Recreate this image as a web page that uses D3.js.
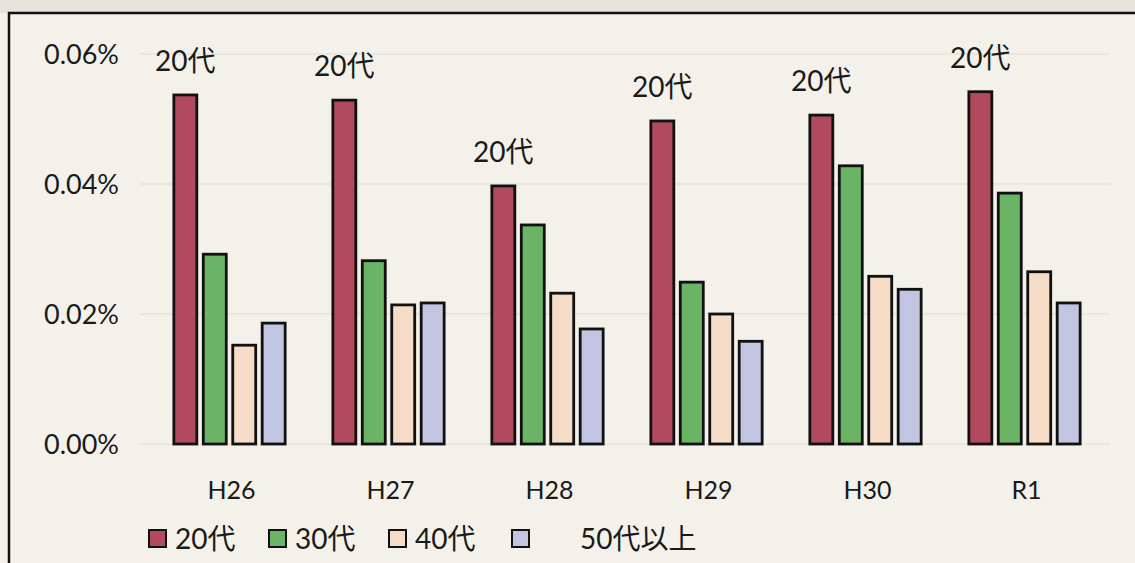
<!DOCTYPE html>
<html>
<head>
<meta charset="utf-8">
<script src="https://cdn.jsdelivr.net/npm/d3@7"></script>
<style>
  body { margin: 0; background: #f3f1e9; }
  text { font-family: "Lato", "Noto Sans CJK JP", sans-serif; fill: #1a1a1a; }
</style>
</head>
<body>
<div id="chart"></div>
<script>
// categories and series
var years = ["H26", "H27", "H28", "H29", "H30", "R1"];
var groups = ["20代", "30代", "40代", "50代以上"];
var colors = ["#b24a5e", "#6bb466", "#f4dcc6", "#c2c5e1"];

// values in %
var v20 = [0.0537, 0.0529, 0.0397, 0.0497, 0.0506, 0.0542];
var v30 = [0.0292, 0.0282, 0.0337, 0.0249, 0.0428, 0.0386];
var v40 = [0.0152, 0.0214, 0.0232, 0.0200, 0.0258, 0.0265];
var v50 = [0.0186, 0.0217, 0.0177, 0.0158, 0.0238, 0.0217];
var yTicks = [0, 0.02, 0.04, 0.06];

var series = [v20, v30, v40, v50];

var width = 1135, height = 563;

var svg = d3.select("#chart")
    .append("svg")
    .attr("width", width)
    .attr("height", height);

// paper above the chart frame
svg.append("rect")
    .attr("x", 0).attr("y", 0)
    .attr("width", width).attr("height", 13)
    .attr("fill", "#e6e3da");

// frame
svg.append("path")
    .attr("d", "M9," + height + "V13H" + width)
    .attr("fill", "none")
    .attr("stroke", "#111")
    .attr("stroke-width", 2.5);

var x0 = d3.scaleBand()
    .domain(years)
    .range([150, 1104])
    .paddingInner(0.3)
    .paddingOuter(0.15);

var x1 = d3.scaleBand()
    .domain(d3.range(groups.length))
    .range([0, x0.bandwidth()])
    .paddingInner(0.22);

var y = d3.scaleLinear()
    .domain([0, 0.06])
    .range([444, 54]);

// faint gridlines
svg.append("g")
    .selectAll("line")
    .data(yTicks)
    .enter()
    .append("line")
    .attr("x1", 140).attr("x2", 1110)
    .attr("y1", function(d) { return y(d); })
    .attr("y2", function(d) { return y(d); })
    .attr("stroke", "#e6e3da")
    .attr("stroke-width", 1.5);

// y labels
svg.append("g")
    .selectAll("text")
    .data(yTicks)
    .enter()
    .append("text")
    .attr("x", 119)
    .attr("y", function(d) { return y(d) + 10; })
    .attr("text-anchor", "end")
    .style("font-size", "27px")
    .text(function(d) { return d.toFixed(2) + "%"; });

// bars
var g = svg.append("g")
    .selectAll("g")
    .data(years)
    .enter()
    .append("g")
    .attr("transform", function(d) { return "translate(" + x0(d) + ",0)"; });

g.selectAll("rect")
    .data(function(d, i) {
        return series.map(function(s, k) { return { k: k, v: s[i] }; });
    })
    .enter()
    .append("rect")
    .attr("x", function(d) { return x1(d.k); })
    .attr("y", function(d) { return y(d.v); })
    .attr("width", x1.bandwidth())
    .attr("height", function(d) { return y(0) - y(d.v); })
    .attr("fill", function(d) { return colors[d.k]; })
    .attr("stroke", "#111")
    .attr("stroke-width", 2.8);

// "20代" labels above first bar
g.append("text")
    .attr("x", x1(0) + x1.bandwidth() / 2)
    .attr("y", function(d, i) { return y(v20[i]) - 24; })
    .attr("text-anchor", "middle")
    .style("font-size", "28px")
    .text(groups[0]);

// x labels
svg.append("g")
    .selectAll("text")
    .data(years)
    .enter()
    .append("text")
    .attr("x", function(d) { return x0(d) + x0.bandwidth() / 2 + 2; })
    .attr("y", 499)
    .attr("text-anchor", "middle")
    .style("font-size", "25px")
    .text(function(d) { return d; });

// legend
var legX = [149, 269, 389, 512];
var legTextX = [175, 295, 415, 580];
var leg = svg.append("g")
    .selectAll("g")
    .data(groups)
    .enter()
    .append("g");

leg.append("rect")
    .attr("x", function(d, i) { return legX[i]; })
    .attr("y", 530)
    .attr("width", 17)
    .attr("height", 17)
    .attr("fill", function(d, i) { return colors[i]; })
    .attr("stroke", "#111")
    .attr("stroke-width", 2);

leg.append("text")
    .attr("x", function(d, i) { return legTextX[i]; })
    .attr("y", 549)
    .style("font-size", "28px")
    .text(function(d) { return d; });
</script>
</body>
</html>
